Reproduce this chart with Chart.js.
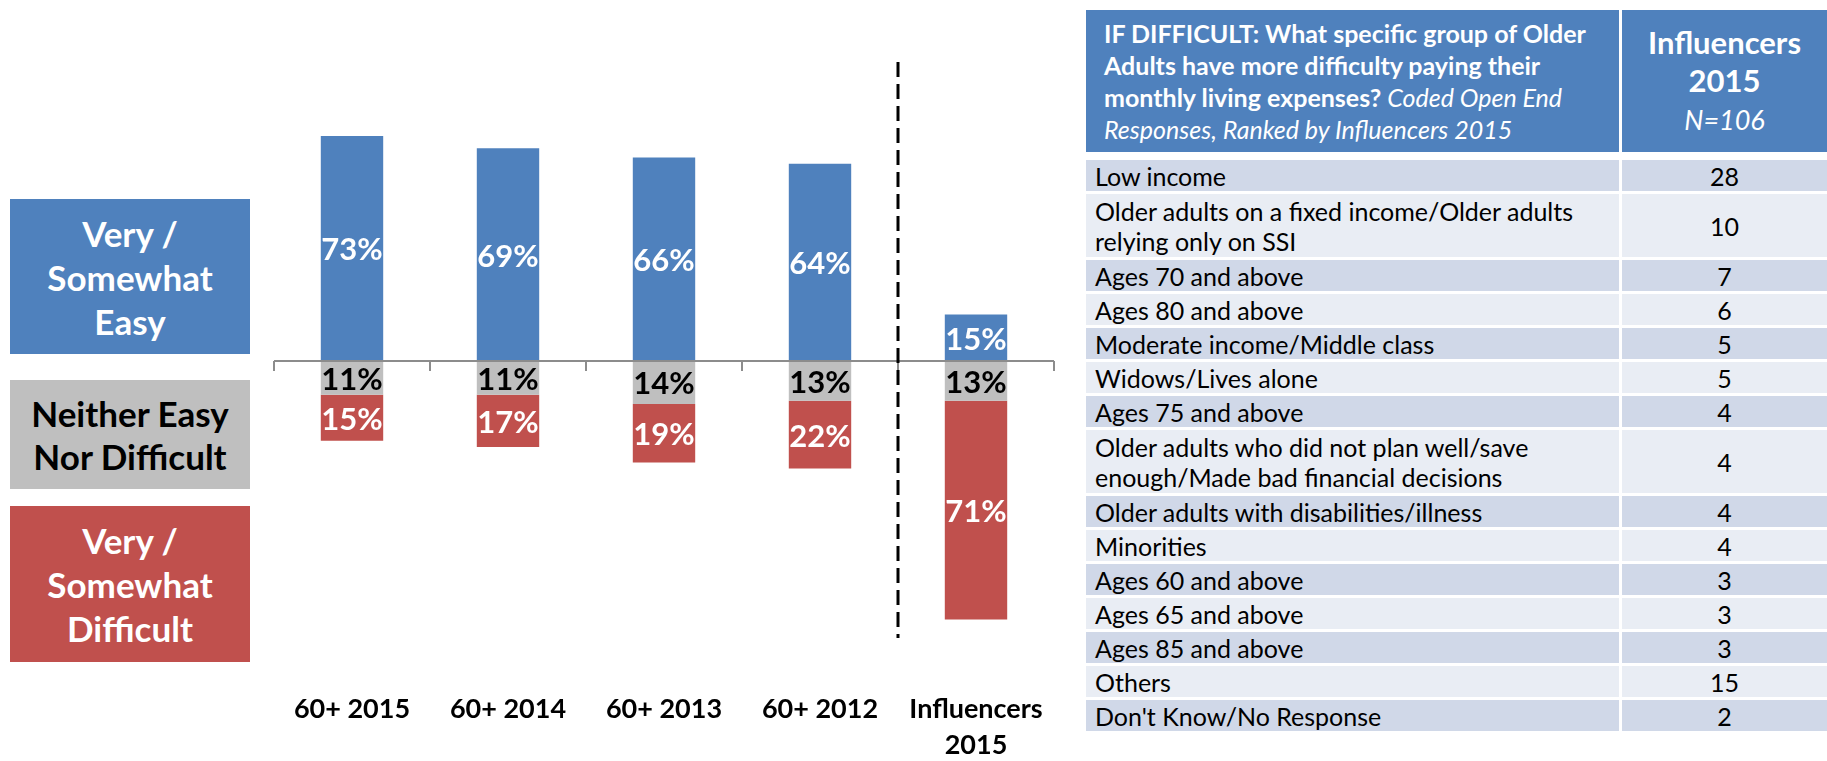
<!DOCTYPE html>
<html>
<head>
<meta charset="utf-8">
<script src="https://cdn.jsdelivr.net/npm/chart.js@4.4.0/dist/chart.umd.min.js"></script>
<style>
    html, body { margin: 0; padding: 0; background: #fff; }
    body { width: 1827px; height: 761px; position: relative; overflow: hidden; font-family: Lato, "Open Sans", sans-serif; }
    #chartBox { position: absolute; left: 0; top: 0; width: 1080px; height: 761px; }
    .key { position: absolute; left: 10px; width: 240px; display: flex; align-items: center; justify-content: center;
           text-align: center; font-weight: bold; font-size: 35px; line-height: 44px; }
    .key.easy { top: 199px; height: 155px; background: #4F81BD; color: #fff; }
    .key.neither { top: 380px; height: 109px; background: #BFBFBF; color: #000; line-height: 43px; }
    .key.difficult { top: 506px; height: 156px; background: #C0504D; color: #fff; }
    #table { position: absolute; left: 1086px; top: 10px; width: 741px; }
    .head { display: flex; height: 142px; margin-bottom: 8px; color: #fff; }
    .head .q { width: 533px; background: #4F81BD; box-sizing: border-box; padding-left: 18px; font-size: 25px; font-weight: bold;
               line-height: 32px; display: flex; align-items: center; white-space: nowrap; }
    .head .q i { font-weight: normal; }
    .head .n { flex: 1; margin-left: 3px; background: #4F81BD; display: flex; align-items: center; justify-content: center;
               text-align: center; font-size: 31px; font-weight: bold; line-height: 38px; }
    .head .n i { font-weight: normal; font-size: 27px; }
    .row { display: flex; margin-bottom: 3px; font-size: 25px; line-height: 30px; color: #000; }
    .row .t { width: 533px; box-sizing: border-box; padding-left: 9px; display: flex; align-items: center; white-space: nowrap; }
    .row .v { flex: 1; margin-left: 3px; display: flex; align-items: center; justify-content: center; }
    .row.dark div { background: #D0D8E8; }
    .row.light div { background: #E9EDF4; }
</style>
</head>
<body>
<div class="key easy">Very /<br>Somewhat<br>Easy</div>
<div class="key neither">Neither Easy<br>Nor Difficult</div>
<div class="key difficult">Very /<br>Somewhat<br>Difficult</div>
<div id="chartBox"><canvas id="mainChart"></canvas></div>
<div id="table">
    <div class="head">
        <div class="q"><div>IF DIFFICULT: What specific group of Older<br>Adults have more difficulty paying their<br>monthly living expenses? <i>Coded Open End<br>Responses, Ranked by Influencers 2015</i></div></div>
        <div class="n"><div>Influencers<br>2015<br><i>N=106</i></div></div>
    </div>
    <div id="rows"></div>
</div>
<script>
        // Chart Data
        const categories = ['60+ 2015', '60+ 2014', '60+ 2013', '60+ 2012', ['Influencers', '2015']];
        const easy = [73, 69, 66, 64, 15];
        const neither = [11, 11, 14, 13, 13];
        const difficult = [15, 17, 19, 22, 71];

        // Table Data
        const responses = [
            'Low income',
            'Older adults on a fixed income/Older adults\nrelying only on SSI',
            'Ages 70 and above',
            'Ages 80 and above',
            'Moderate income/Middle class',
            'Widows/Lives alone',
            'Ages 75 and above',
            'Older adults who did not plan well/save\nenough/Made bad financial decisions',
            'Older adults with disabilities/illness',
            'Minorities',
            'Ages 60 and above',
            'Ages 65 and above',
            'Ages 85 and above',
            'Others',
            "Don't Know/No Response"
        ];
        const counts = [28, 10, 7, 6, 5, 5, 4, 4, 4, 4, 3, 3, 3, 15, 2];

        // Build table
        const rowsEl = document.getElementById('rows');
        responses.forEach((r, i) => {
            const row = document.createElement('div');
            row.className = 'row ' + (i % 2 === 0 ? 'dark' : 'light');
            const lines = r.split('\n');
            const h = lines.length > 1 ? 63 : 31;
            const t = document.createElement('div');
            t.className = 't';
            t.style.height = h + 'px';
            t.innerHTML = '<span>' + lines.join('<br>') + '</span>';
            const v = document.createElement('div');
            v.className = 'v';
            v.style.height = h + 'px';
            v.textContent = counts[i];
            row.appendChild(t);
            row.appendChild(v);
            rowsEl.appendChild(row);
        });

        const labelColors = ['#fff', '#000', '#fff'];

        // zero line, tick marks, divider and value labels
        const marks = {
            id: 'marks',
            afterDatasetsDraw(chart) {
                const { ctx, chartArea, scales: { x, y } } = chart;
                const y0 = Math.round(y.getPixelForValue(0));
                ctx.save();
                ctx.strokeStyle = '#8c8c8c';
                ctx.lineWidth = 2;
                ctx.beginPath();
                ctx.moveTo(chartArea.left, y0);
                ctx.lineTo(chartArea.right, y0);
                for (let i = 0; i <= categories.length; i++) {
                    const px = Math.round(x.getPixelForValue(i - 0.5));
                    ctx.moveTo(px, y0);
                    ctx.lineTo(px, y0 + 10);
                }
                ctx.stroke();

                const dx = Math.round(x.getPixelForValue(3.5));
                ctx.setLineDash([15, 7]);
                ctx.lineWidth = 3;
                ctx.strokeStyle = '#000';
                ctx.beginPath();
                ctx.moveTo(dx, chartArea.top);
                ctx.lineTo(dx, chartArea.bottom);
                ctx.stroke();
                ctx.setLineDash([]);

                ctx.font = 'bold 31px Lato, sans-serif';
                ctx.textAlign = 'center';
                ctx.textBaseline = 'middle';
                chart.data.datasets.forEach((ds, di) => {
                    const meta = chart.getDatasetMeta(di);
                    meta.data.forEach((bar, i) => {
                        ctx.fillStyle = labelColors[di];
                        ctx.fillText(Math.abs(ds.data[i]) + '%', bar.x, (bar.y + bar.base) / 2 + 2);
                    });
                });
                ctx.restore();
            }
        };

        // Create Chart
        const ctx = document.getElementById('mainChart').getContext('2d');
        new Chart(ctx, {
            type: 'bar',
            data: {
                labels: categories,
                datasets: [
                    { label: 'Very / Somewhat Easy', data: easy, backgroundColor: '#4F81BD' },
                    { label: 'Neither Easy Nor Difficult', data: neither.map(v => -v), backgroundColor: '#BFBFBF' },
                    { label: 'Very / Somewhat Difficult', data: difficult.map(v => -v), backgroundColor: '#C0504D' }
                ]
            },
            options: {
                responsive: true,
                maintainAspectRatio: false,
                animation: false,
                layout: { padding: { left: 274, right: 26, top: 62, bottom: 5 } },
                datasets: { bar: { categoryPercentage: 1, barPercentage: 0.4, borderWidth: 0 } },
                plugins: {
                    legend: { display: false },
                    tooltip: { enabled: false }
                },
                scales: {
                    x: {
                        stacked: true,
                        grid: { display: false, drawTicks: false },
                        border: { display: false },
                        ticks: {
                            color: '#000',
                            padding: 53,
                            maxRotation: 0,
                            autoSkip: false,
                            font: { family: 'Lato', size: 27, weight: 'bold', lineHeight: 1.35 }
                        },
                        afterFit(scale) {
                            // fixed axis box so the plot area lines up with the reference
                            scale.height = 118;
                            scale.paddingLeft = 0;
                            scale.paddingRight = 0;
                        }
                    },
                    y: {
                        stacked: true,
                        display: false,
                        min: -90,
                        max: 97
                    }
                }
            },
            plugins: [marks]
        });
</script>
</body>
</html>
